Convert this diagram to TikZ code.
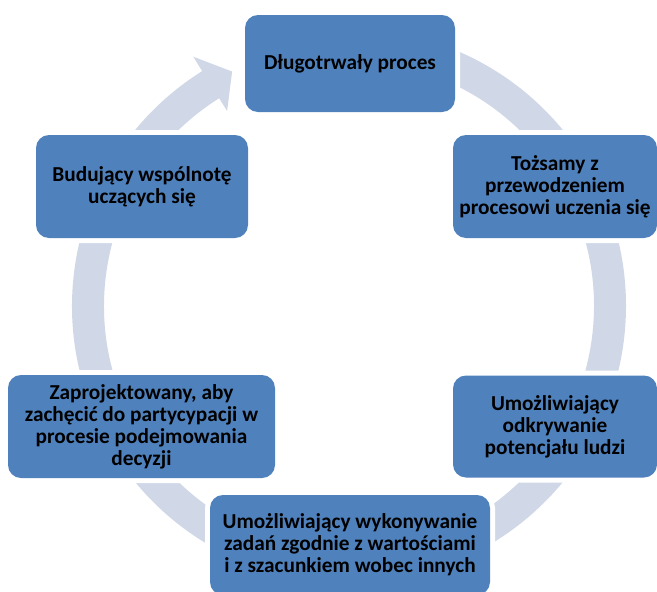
\documentclass[tikz,border=0pt]{standalone}
\usepackage{fontspec}
\setmainfont{Carlito}
\usetikzlibrary{calc}
\definecolor{boxblue}{RGB}{79,129,189}
\definecolor{ringcol}{RGB}{208,216,232}
\begin{document}
\begin{tikzpicture}[x=1pt,y=-1pt,
  box/.style={rectangle, rounded corners=13pt, fill=boxblue,
    preaction={draw=white, line width=10pt},
    font=\fontsize{21.3}{22}\selectfont\bfseries, align=center,
    inner sep=0pt, text=black}]
\useasboundingbox (0,0) rectangle (657,592);
\fill[white] (0,0) rectangle (657,592);
\coordinate (c) at (349,306);
% ring with arrow head
\draw[ringcol, line width=32pt] ($(c)+(275:261)$) arc[start angle=275, end angle=598.5, radius=261];
\fill[ringcol] ($(c)+(238:294)$) -- ($(c)+(243.5:262)$) -- ($(c)+(238:230)$) -- cycle;
% boxes
\node[box, minimum width=210pt, minimum height=97pt] (b1) at (350,63.5) {Długotrwały proces};
\node[box, minimum width=204pt, minimum height=103pt] (b2) at (555,186.5) {Tożsamy z\\przewodzeniem\\procesowi uczenia się};
\node[box, minimum width=204pt, minimum height=102pt] (b3) at (555,426.5) {Umożliwiający\\odkrywanie\\potencjału ludzi};
\node[box, minimum width=280pt, minimum height=100pt] (b4) at (350,545) {Umożliwiający wykonywanie\\zadań zgodnie z wartościami\\i z szacunkiem wobec innych};
\node[box, minimum width=267pt, minimum height=103pt] (b5) at (141.5,426.5) {Zaprojektowany, aby\\zachęcić do partycypacji w\\procesie podejmowania\\decyzji};
\node[box, minimum width=212pt, minimum height=103pt] (b6) at (142,186.5) {Budujący wspólnotę\\uczących się};
\end{tikzpicture}
\end{document}
